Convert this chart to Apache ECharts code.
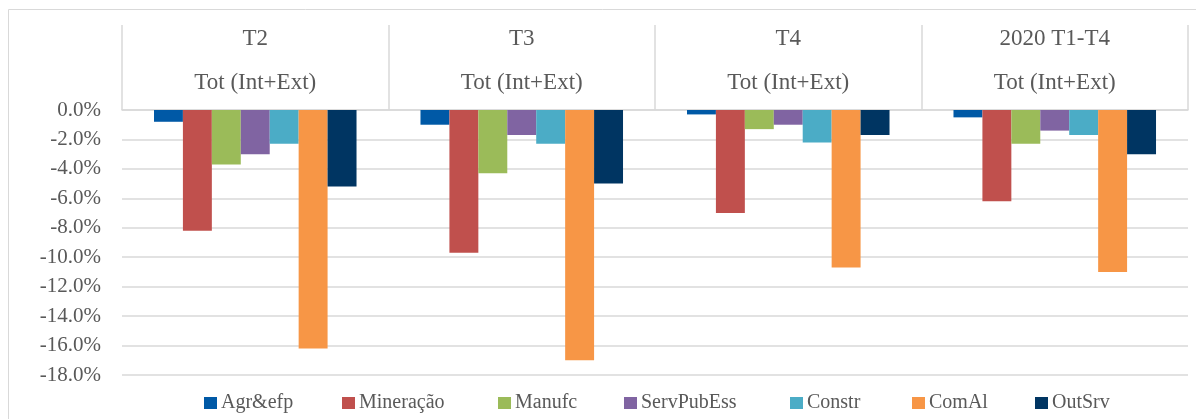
<!DOCTYPE html>
<html>
<head>
<meta charset="utf-8">
<script src="https://cdn.jsdelivr.net/npm/echarts@6/dist/echarts.min.js"></script>
<style>
  html, body { margin: 0; padding: 0; background: #fff; }
  #main { width: 1196px; height: 419px; }
</style>
</head>
<body>
<div id="main"></div>
<script>
// categorias (trimestres) e setores
var periods = ['T2', 'T3', 'T4', '2020 T1-T4'];
var subLabel = 'Tot (Int+Ext)';
var sectors = ['Agr&efp', 'Mineração', 'Manufc', 'ServPubEss', 'Constr', 'ComAl', 'OutSrv'];
var colors = ['#0059A6', '#C0504D', '#9BBB59', '#8064A2', '#4BACC6', '#F79646', '#003562'];

// valores em % por setor, na ordem dos períodos
var agr      = [-0.8, -1.0, -0.3, -0.5];
var mineracao = [-8.2, -9.7, -7.0, -6.2];
var manufc   = [-3.7, -4.3, -1.3, -2.3];
var servPub  = [-3.0, -1.7, -1.0, -1.4];
var constr   = [-2.3, -2.3, -2.2, -1.7];
var comAl    = [-16.2, -17.0, -10.7, -11.0];
var outSrv   = [-5.2, -5.0, -1.7, -3.0];
var values = [agr, mineracao, manufc, servPub, constr, comAl, outSrv];

// eixo y
var yMin = -18, yMax = 0, yStep = 2;

var font = 'Liberation Serif';
var grey = '#595959';
var lineGrey = '#d9d9d9';

// posição x de cada item da legenda (como no original)
var legendX = [204, 342, 498, 624, 790, 912, 1035];

var chart = echarts.init(document.getElementById('main'));
chart.setOption({
  animation: false,
  textStyle: { fontFamily: font },
  color: colors,
  grid: { left: 122, right: 8, top: 110, bottom: 44, containLabel: false },
  graphic: [{
    type: 'rect',
    shape: { x: 8.5, y: 9.5, width: 1200, height: 430 },
    style: { fill: 'none', stroke: lineGrey, lineWidth: 1 },
    silent: true
  }],
  legend: sectors.map(function (name, i) {
    return {
      top: 393,
      left: legendX[i],
      padding: 0,
      icon: 'rect',
      itemWidth: 13,
      itemHeight: 12,
      textStyle: { fontFamily: font, fontSize: 20, color: grey, padding: [0, 0, 0, -1] },
      data: [name]
    };
  }),
  xAxis: {
    type: 'category',
    position: 'top',
    data: periods,
    axisLine: { show: true, lineStyle: { color: lineGrey, width: 1.5 } },
    axisTick: { show: true, length: 85, lineStyle: { color: lineGrey, width: 1.5 } },
    axisLabel: {
      margin: 5,
      fontFamily: font,
      fontSize: 23,
      color: grey,
      lineHeight: 44,
      formatter: function (v) { return v + '\n' + subLabel; }
    },
    splitLine: { show: false }
  },
  yAxis: {
    type: 'value',
    min: yMin,
    max: yMax,
    interval: yStep,
    axisLine: { show: false },
    axisTick: { show: false },
    axisLabel: {
      margin: 21,
      fontFamily: font,
      fontSize: 21,
      color: grey,
      formatter: function (v) { return (v === 0 ? 0 : v).toFixed(1) + '%'; }
    },
    splitLine: { lineStyle: { color: lineGrey, width: 1.5 } }
  },
  series: sectors.map(function (name, i) {
    return {
      name: name,
      type: 'bar',
      data: values[i],
      barGap: '0%',
      barCategoryGap: '24%',
      itemStyle: { color: colors[i] }
    };
  })
});
</script>
</body>
</html>
